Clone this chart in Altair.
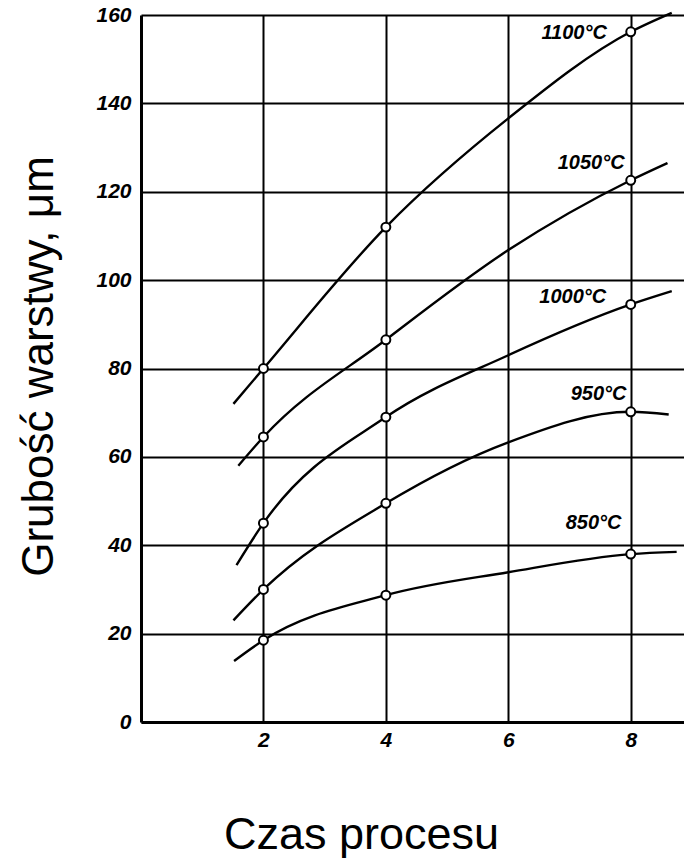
import altair as alt
import pandas as pd

# Curves (time [h] vs layer thickness [um])
series = ["1100°C", "1050°C", "1000°C", "950°C", "850°C"]
curve_x = {
    "1100°C": [1.51, 2, 4, 6, 8, 8.67],
    "1050°C": [1.59, 2, 4, 6, 8, 8.6],
    "1000°C": [1.56, 2, 4, 6, 8, 8.67],
    "950°C":  [1.51, 2, 4, 6, 8, 8.62],
    "850°C":  [1.52, 2, 4, 6, 8, 8.75],
}
curve_y = {
    "1100°C": [72.0, 80.0, 112, 136.6, 156.2, 160.5],
    "1050°C": [58.0, 64.5, 86.5, 106.8, 122.6, 126.5],
    "1000°C": [35.5, 45.0, 69.0, 83.0, 94.5, 97.5],
    "950°C":  [23.0, 30.0, 49.5, 63.3, 70.2, 69.6],
    "850°C":  [13.8, 18.5, 28.7, 33.9, 38.0, 38.5],
}
# Measured points (open circles)
point_x = [2, 4, 8]
point_y = {
    "1100°C": [80.0, 112, 156.2],
    "1050°C": [64.5, 86.5, 122.6],
    "1000°C": [45.0, 69.0, 94.5],
    "950°C":  [30.0, 49.5, 70.2],
    "850°C":  [18.5, 28.7, 38.0],
}
# Curve labels
label_x = [7.61, 7.9, 7.6, 7.93, 7.85]
label_y = [155.9, 126.5, 96.2, 74.2, 45.0]

x_ticks = [2, 4, 6, 8]
y_ticks = [0, 20, 40, 60, 80, 100, 120, 140, 160]

lines_df = pd.DataFrame(
    [{"s": s, "x": xv, "y": yv} for s in series for xv, yv in zip(curve_x[s], curve_y[s])]
)
pts_df = pd.DataFrame(
    [{"s": s, "x": xv, "y": yv} for s in series for xv, yv in zip(point_x, point_y[s])]
)
lab_df = pd.DataFrame({"s": series, "x": label_x, "y": label_y})

TICK_FONT = "Liberation Sans"

xs = alt.Scale(domain=[0, 8.87], nice=False, zero=False)
ys = alt.Scale(domain=[0, 160], nice=False)

x_axis = alt.Axis(
    values=x_ticks, format="d", grid=True, gridColor="black", gridWidth=2, gridOpacity=1,
    ticks=False, domainColor="black", domainWidth=3,
    labelFont=TICK_FONT, labelFontSize=21, labelFontStyle="italic", labelFontWeight="bold",
    labelColor="black", labelPadding=7,
    title="Czas procesu", titleFont="Liberation Sans", titleFontSize=45,
    titleFontWeight="normal", titleColor="black",
    titleX=220, titleY=126, titleBaseline="alphabetic", titleAlign="center",
)
y_axis = alt.Axis(
    values=y_ticks, format="d", grid=True, gridColor="black", gridWidth=2, gridOpacity=1,
    ticks=False, domainColor="black", domainWidth=3,
    labelFont=TICK_FONT, labelFontSize=21, labelFontStyle="italic", labelFontWeight="bold",
    labelColor="black", labelPadding=10,
    title="Grubość warstwy, μm", titleFont="Liberation Sans", titleFontSize=44,
    titleFontWeight="normal", titleColor="black", titleAngle=270,
    titleX=-89, titleY=351, titleBaseline="alphabetic", titleAlign="center",
)

base = alt.Chart(lines_df)

lines = base.mark_line(color="black", strokeWidth=2.4, interpolate="monotone", clip=False).encode(
    x=alt.X("x:Q", scale=xs, axis=x_axis),
    y=alt.Y("y:Q", scale=ys, axis=y_axis),
    detail="s:N",
    order="x:Q",
)

points = alt.Chart(pts_df).mark_point(
    shape="circle", size=80, filled=True, fill="white", stroke="black", strokeWidth=2, opacity=1
).encode(
    x=alt.X("x:Q", scale=xs),
    y=alt.Y("y:Q", scale=ys),
)

labels = alt.Chart(lab_df).mark_text(
    font=TICK_FONT, fontSize=20, fontStyle="italic", fontWeight="bold",
    align="right", baseline="middle", color="black",
).encode(
    x=alt.X("x:Q", scale=xs),
    y=alt.Y("y:Q", scale=ys),
    text="s:N",
)

chart = alt.layer(lines, points, labels).properties(
    width=543, height=707,
    autosize=alt.AutoSizeParams(type="none"),
    padding={"left": 141, "top": 15, "right": 0, "bottom": 137},
    background="white",
).configure_view(stroke=None)

chart.save("out.html", embed_options={"renderer": "svg", "actions": False})
